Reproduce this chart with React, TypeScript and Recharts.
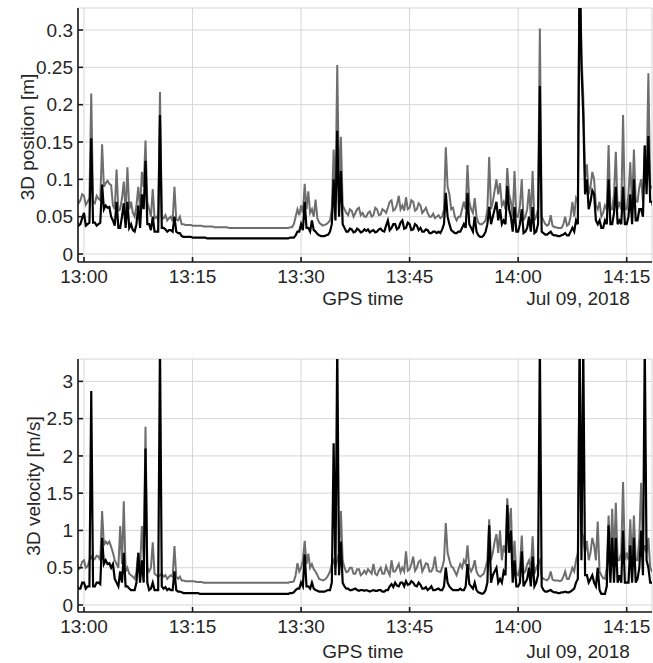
import { LineChart, Line, XAxis, YAxis, CartesianGrid } from 'recharts';

// ── 샘플 간격 (분, 13:00 기준) — 한 줄 = 5분 ─────────────────
const START_MIN = -1;
const STEP_MIN = 0.25;

// ── 3D position [m] ──────────────────────────────────────────
const posGray = [
  0.075, 0.068, 0.072, 0.08, 0.078, 0.066, 0.07, 0.075, 0.215, 0.07, 0.068, 0.078, 0.074, 0.072, 0.147, 0.09, 0.095, 0.098, 0.094, 0.092,
  0.065, 0.06, 0.113, 0.058, 0.06, 0.075, 0.097, 0.055, 0.116, 0.06, 0.07, 0.055, 0.05, 0.065, 0.09, 0.06, 0.11, 0.09, 0.152, 0.07,
  0.06, 0.05, 0.087, 0.048, 0.05, 0.046, 0.217, 0.05, 0.048, 0.052, 0.045, 0.048, 0.05, 0.044, 0.09, 0.046, 0.045, 0.05, 0.04, 0.04,
  0.039, 0.039, 0.039, 0.039, 0.038, 0.038, 0.038, 0.038, 0.038, 0.038, 0.037, 0.037, 0.037, 0.037, 0.037, 0.037, 0.036, 0.036, 0.036, 0.036,
  0.036, 0.036, 0.036, 0.036, 0.035, 0.035, 0.035, 0.035, 0.035, 0.035, 0.035, 0.035, 0.035, 0.035, 0.035, 0.035, 0.035, 0.035, 0.035, 0.035,
  0.035, 0.035, 0.035, 0.035, 0.035, 0.035, 0.035, 0.035, 0.035, 0.035, 0.035, 0.035, 0.035, 0.035, 0.035, 0.035, 0.035, 0.035, 0.036, 0.036,
  0.04, 0.05, 0.06, 0.052, 0.065, 0.055, 0.094, 0.06, 0.084, 0.055, 0.06, 0.05, 0.073, 0.048, 0.042, 0.04, 0.038, 0.039, 0.04, 0.042,
  0.045, 0.06, 0.14, 0.07, 0.253, 0.08, 0.157, 0.065, 0.06, 0.055, 0.052, 0.06, 0.058, 0.05, 0.055, 0.06, 0.062, 0.052, 0.055, 0.05,
  0.05, 0.055, 0.057, 0.05, 0.052, 0.062, 0.06, 0.052, 0.053, 0.06, 0.058, 0.055, 0.062, 0.07, 0.072, 0.058, 0.06, 0.066, 0.078, 0.06,
  0.065, 0.058, 0.076, 0.06, 0.062, 0.072, 0.07, 0.058, 0.06, 0.068, 0.065, 0.055, 0.058, 0.062, 0.055, 0.05, 0.05, 0.054, 0.048, 0.05,
  0.052, 0.048, 0.05, 0.06, 0.143, 0.09, 0.08, 0.06, 0.062, 0.05, 0.045, 0.05, 0.05, 0.06, 0.07, 0.06, 0.119, 0.07, 0.06, 0.055,
  0.075, 0.05, 0.042, 0.04, 0.04, 0.042, 0.045, 0.06, 0.13, 0.06, 0.07, 0.085, 0.1, 0.08, 0.095, 0.065, 0.07, 0.06, 0.115, 0.08,
  0.07, 0.05, 0.111, 0.05, 0.05, 0.065, 0.1, 0.045, 0.05, 0.06, 0.087, 0.05, 0.111, 0.045, 0.05, 0.06, 0.302, 0.05, 0.045, 0.04,
  0.038, 0.04, 0.052, 0.038, 0.036, 0.036, 0.035, 0.035, 0.035, 0.04, 0.05, 0.038, 0.04, 0.05, 0.07, 0.05, 0.075, 0.07, 0.4, 0.27,
  0.211, 0.1, 0.12, 0.08, 0.09, 0.11, 0.1, 0.065, 0.06, 0.07, 0.05, 0.055, 0.065, 0.06, 0.146, 0.06, 0.06, 0.08, 0.137, 0.06,
  0.07, 0.06, 0.186, 0.06, 0.06, 0.08, 0.123, 0.06, 0.14, 0.07, 0.07, 0.09, 0.1, 0.07, 0.146, 0.1, 0.242, 0.09, 0.09, 0.08,
];
const posBlack = [
  0.044, 0.038, 0.04, 0.048, 0.055, 0.038, 0.04, 0.042, 0.155, 0.042, 0.042, 0.038, 0.04, 0.042, 0.093, 0.06, 0.065, 0.062, 0.063, 0.05,
  0.045, 0.038, 0.07, 0.035, 0.035, 0.05, 0.068, 0.035, 0.07, 0.035, 0.04, 0.032, 0.03, 0.04, 0.065, 0.035, 0.08, 0.06, 0.125, 0.04,
  0.04, 0.032, 0.05, 0.03, 0.03, 0.03, 0.186, 0.035, 0.035, 0.033, 0.03, 0.032, 0.032, 0.03, 0.05, 0.03, 0.028, 0.028, 0.024, 0.023,
  0.023, 0.023, 0.023, 0.023, 0.022, 0.022, 0.022, 0.022, 0.022, 0.022, 0.022, 0.022, 0.021, 0.021, 0.021, 0.021, 0.021, 0.021, 0.021, 0.021,
  0.021, 0.021, 0.021, 0.021, 0.021, 0.021, 0.021, 0.021, 0.021, 0.021, 0.021, 0.021, 0.021, 0.021, 0.021, 0.021, 0.021, 0.021, 0.021, 0.021,
  0.021, 0.021, 0.021, 0.021, 0.021, 0.021, 0.021, 0.021, 0.021, 0.021, 0.021, 0.021, 0.021, 0.021, 0.021, 0.021, 0.021, 0.021, 0.022, 0.022,
  0.022, 0.025, 0.03, 0.03, 0.04, 0.032, 0.07, 0.035, 0.035, 0.03, 0.045, 0.032, 0.03, 0.027, 0.025, 0.024, 0.024, 0.024, 0.025, 0.026,
  0.03, 0.04, 0.1, 0.045, 0.165, 0.05, 0.111, 0.04, 0.035, 0.03, 0.03, 0.034, 0.033, 0.029, 0.03, 0.034, 0.032, 0.029, 0.03, 0.033,
  0.031, 0.033, 0.029, 0.031, 0.032, 0.029, 0.03, 0.033, 0.034, 0.031, 0.03, 0.038, 0.045, 0.032, 0.035, 0.04, 0.04, 0.033, 0.035, 0.042,
  0.045, 0.034, 0.035, 0.042, 0.04, 0.032, 0.033, 0.04, 0.038, 0.032, 0.035, 0.03, 0.03, 0.033, 0.032, 0.028, 0.028, 0.03, 0.03, 0.028,
  0.03, 0.028, 0.033, 0.04, 0.082, 0.05, 0.04, 0.032, 0.03, 0.028, 0.028, 0.03, 0.03, 0.035, 0.04, 0.035, 0.082, 0.04, 0.035, 0.03,
  0.05, 0.03, 0.025, 0.023, 0.023, 0.025, 0.03, 0.04, 0.063, 0.04, 0.05, 0.06, 0.07, 0.045, 0.06, 0.04, 0.045, 0.04, 0.091, 0.06,
  0.05, 0.03, 0.063, 0.03, 0.03, 0.04, 0.06, 0.028, 0.03, 0.035, 0.05, 0.03, 0.063, 0.028, 0.03, 0.04, 0.225, 0.03, 0.028, 0.026,
  0.026, 0.028, 0.03, 0.026, 0.025, 0.025, 0.024, 0.024, 0.025, 0.026, 0.028, 0.025, 0.025, 0.03, 0.035, 0.03, 0.045, 0.04, 0.4, 0.25,
  0.186, 0.08, 0.1, 0.06, 0.07, 0.085, 0.08, 0.045, 0.04, 0.045, 0.035, 0.035, 0.045, 0.04, 0.1, 0.04, 0.04, 0.055, 0.09, 0.04,
  0.045, 0.04, 0.09, 0.04, 0.04, 0.05, 0.08, 0.04, 0.1, 0.045, 0.045, 0.06, 0.06, 0.05, 0.145, 0.08, 0.158, 0.07, 0.07, 0.06,
];

// ── 3D velocity [m/s] ────────────────────────────────────────
const velGray = [
  0.55, 0.48, 0.5, 0.58, 0.6, 0.5, 0.52, 0.6, 0.65, 0.6, 0.62, 0.66, 0.65, 0.6, 1.26, 0.8, 0.85, 0.82, 0.85, 0.78,
  0.7, 0.6, 0.55, 0.5, 1.06, 0.55, 1.39, 0.45, 0.5, 0.42, 0.4, 0.38, 0.35, 0.45, 0.7, 0.5, 1.06, 0.6, 2.39, 0.5,
  0.45, 0.5, 0.84, 0.42, 0.4, 0.38, 0.4, 0.42, 0.38, 0.4, 0.35, 0.38, 0.4, 0.38, 0.79, 0.38, 0.35, 0.38, 0.33, 0.33,
  0.32, 0.32, 0.32, 0.32, 0.32, 0.32, 0.31, 0.31, 0.31, 0.31, 0.3, 0.3, 0.3, 0.3, 0.3, 0.3, 0.3, 0.3, 0.3, 0.3,
  0.3, 0.3, 0.3, 0.3, 0.3, 0.3, 0.3, 0.3, 0.3, 0.3, 0.3, 0.3, 0.3, 0.3, 0.3, 0.3, 0.3, 0.3, 0.3, 0.3,
  0.3, 0.3, 0.3, 0.3, 0.3, 0.3, 0.3, 0.3, 0.3, 0.3, 0.3, 0.3, 0.3, 0.3, 0.3, 0.3, 0.3, 0.3, 0.31, 0.31,
  0.32, 0.4, 0.56, 0.45, 0.5, 0.6, 0.86, 0.55, 0.69, 0.5, 0.55, 0.48, 0.45, 0.4, 0.35, 0.34, 0.33, 0.34, 0.36, 0.4,
  0.45, 0.55, 0.6, 0.5, 0.6, 0.7, 1.26, 0.6, 0.5, 0.44, 0.45, 0.5, 0.5, 0.42, 0.42, 0.48, 0.48, 0.4, 0.42, 0.46,
  0.42, 0.48, 0.45, 0.42, 0.55, 0.42, 0.4, 0.46, 0.5, 0.42, 0.42, 0.52, 0.45, 0.4, 0.6, 0.45, 0.45, 0.5, 0.55, 0.44,
  0.5, 0.45, 0.72, 0.46, 0.48, 0.55, 0.65, 0.46, 0.5, 0.58, 0.6, 0.45, 0.5, 0.56, 0.55, 0.45, 0.45, 0.5, 0.65, 0.46,
  0.45, 0.44, 0.5, 0.6, 1.1, 0.7, 0.6, 0.52, 0.5, 0.45, 0.4, 0.48, 0.55, 0.5, 0.6, 0.55, 0.8, 0.5, 0.45, 0.5,
  0.6, 0.45, 0.4, 0.38, 0.4, 0.42, 0.5, 0.6, 1.15, 0.6, 0.7, 0.85, 0.95, 0.7, 1.0, 0.6, 0.8, 0.7, 1.43, 1.0,
  1.3, 0.5, 0.86, 0.42, 0.4, 0.5, 0.93, 0.42, 0.45, 0.55, 0.6, 0.45, 0.92, 0.42, 0.5, 0.55, 0.6, 0.38, 0.35, 0.34,
  0.33, 0.36, 0.45, 0.34, 0.33, 0.33, 0.33, 0.32, 0.33, 0.38, 0.45, 0.35, 0.35, 0.42, 0.5, 0.45, 0.6, 0.7, 3.5, 1.0,
  0.9, 0.7, 0.86, 0.6, 0.7, 0.9, 0.8, 0.6, 1.12, 0.45, 0.4, 0.36, 0.35, 0.5, 1.2, 0.6, 1.29, 0.6, 1.37, 0.6,
  0.6, 0.7, 1.65, 0.6, 0.7, 0.6, 1.15, 0.55, 1.2, 0.6, 0.6, 0.9, 1.64, 0.7, 0.8, 0.7, 0.9, 0.5, 0.45, 0.45,
];
const velBlack = [
  0.27, 0.22, 0.22, 0.3, 0.3, 0.22, 0.25, 0.25, 2.87, 0.25, 0.25, 0.3, 0.3, 0.28, 0.9, 0.55, 0.6, 0.55, 0.56, 0.5,
  0.55, 0.35, 0.3, 0.25, 0.45, 0.3, 0.7, 0.25, 0.25, 0.22, 0.2, 0.2, 0.2, 0.3, 0.7, 0.3, 0.6, 0.3, 2.1, 0.3,
  0.2, 0.22, 0.3, 0.2, 0.2, 0.2, 3.5, 0.25, 0.22, 0.24, 0.2, 0.22, 0.2, 0.2, 0.45, 0.2, 0.18, 0.18, 0.17, 0.16,
  0.16, 0.16, 0.16, 0.16, 0.16, 0.16, 0.16, 0.16, 0.15, 0.15, 0.15, 0.15, 0.15, 0.15, 0.15, 0.15, 0.15, 0.15, 0.15, 0.15,
  0.15, 0.15, 0.15, 0.15, 0.15, 0.15, 0.15, 0.15, 0.15, 0.15, 0.15, 0.15, 0.15, 0.15, 0.15, 0.15, 0.15, 0.15, 0.15, 0.15,
  0.15, 0.15, 0.15, 0.15, 0.15, 0.15, 0.15, 0.15, 0.15, 0.15, 0.15, 0.15, 0.15, 0.15, 0.15, 0.15, 0.15, 0.15, 0.16, 0.16,
  0.17, 0.2, 0.22, 0.22, 0.3, 0.25, 0.68, 0.25, 0.25, 0.22, 0.3, 0.22, 0.2, 0.19, 0.18, 0.18, 0.18, 0.18, 0.19, 0.2,
  0.2, 0.3, 2.17, 0.4, 3.5, 0.4, 0.85, 0.3, 0.25, 0.22, 0.22, 0.2, 0.2, 0.21, 0.22, 0.2, 0.19, 0.2, 0.2, 0.19,
  0.2, 0.19, 0.18, 0.19, 0.2, 0.19, 0.19, 0.2, 0.2, 0.18, 0.18, 0.2, 0.2, 0.25, 0.28, 0.24, 0.3, 0.26, 0.25, 0.3,
  0.3, 0.25, 0.32, 0.27, 0.28, 0.32, 0.3, 0.26, 0.25, 0.3, 0.27, 0.22, 0.22, 0.24, 0.2, 0.22, 0.25, 0.2, 0.2, 0.21,
  0.22, 0.2, 0.2, 0.25, 0.5, 0.3, 0.25, 0.22, 0.2, 0.2, 0.2, 0.2, 0.22, 0.2, 0.2, 0.25, 0.55, 0.28, 0.25, 0.22,
  0.3, 0.2, 0.17, 0.16, 0.15, 0.16, 0.2, 0.3, 1.07, 0.3, 0.4, 0.45, 0.5, 0.3, 0.35, 0.3, 0.45, 0.4, 1.34, 0.7,
  1.0, 0.3, 0.6, 0.25, 0.25, 0.3, 0.72, 0.25, 0.3, 0.35, 0.5, 0.25, 0.65, 0.25, 0.3, 0.4, 3.5, 0.25, 0.2, 0.18,
  0.18, 0.19, 0.2, 0.18, 0.17, 0.17, 0.16, 0.16, 0.17, 0.17, 0.18, 0.17, 0.17, 0.18, 0.2, 0.22, 0.3, 0.35, 3.5, 0.6,
  3.5, 0.4, 0.4, 0.3, 0.35, 0.4, 0.3, 0.25, 0.5, 0.2, 0.15, 0.15, 0.15, 0.25, 1.07, 0.3, 0.9, 0.3, 0.9, 0.3,
  0.4, 0.3, 1.0, 0.3, 0.3, 0.3, 0.8, 0.3, 0.9, 0.3, 0.35, 0.5, 1.0, 0.4, 3.5, 0.6, 0.5, 0.3, 0.3, 0.3,
];

// ── 축 눈금 ──────────────────────────────────────────────────
const timeTicks = [0, 15, 30, 45, 60, 75];
const timeLabels = ['13:00', '13:15', '13:30', '13:45', '14:00', '14:15'];
const posTicks = [0, 0.05, 0.1, 0.15, 0.2, 0.25, 0.3];
const velTicks = [0, 0.5, 1, 1.5, 2, 2.5, 3];

const FONT = '"Liberation Sans", Arial, Helvetica, sans-serif';
const TICK = { fill: '#262626', fontSize: 19, fontFamily: FONT };
const X_DOMAIN: [number, number] = [-0.83, 78.5];

const posData = posGray.map((g, i) => ({ t: START_MIN + i * STEP_MIN, gray: g, black: posBlack[i] }));
const velData = velGray.map((g, i) => ({ t: START_MIN + i * STEP_MIN, gray: g, black: velBlack[i] }));

const fmtTime = (v: number) => timeLabels[timeTicks.indexOf(v)] ?? '';

interface PanelProps {
  data: { t: number; gray: number; black: number }[];
  top: number; height: number; marginTop: number; axisH: number; xMargin: number;
  yTicks: number[]; yDomain: [number, number];
}

function Panel({ data, top, height, marginTop, axisH, xMargin, yTicks, yDomain }: PanelProps) {
  return (
    <div style={{ position: 'absolute', left: 0, top }}>
      <LineChart width={653} height={height} data={data} margin={{ top: marginTop, right: 1, bottom: 0, left: 0 }}>
        <CartesianGrid stroke="#d6d6d6" strokeWidth={1} />
        <XAxis dataKey="t" type="number" domain={X_DOMAIN} allowDataOverflow ticks={timeTicks} interval={0}
          tickFormatter={fmtTime} tick={TICK} tickSize={-5} tickMargin={xMargin} height={axisH}
          stroke="#1a1a1a" strokeWidth={1.6} />
        <XAxis xAxisId="top" orientation="top" type="number" domain={X_DOMAIN} allowDataOverflow ticks={timeTicks}
          interval={0} tick={false} tickSize={-5} height={0} stroke="#1a1a1a" strokeWidth={1.6} />
        <YAxis type="number" domain={yDomain} allowDataOverflow ticks={yTicks} interval={0}
          tickFormatter={(v: number) => String(v)} tick={TICK} tickSize={-5} tickMargin={10} width={78}
          stroke="#1a1a1a" strokeWidth={1.6} />
        <YAxis yAxisId="right" orientation="right" type="number" domain={yDomain} allowDataOverflow ticks={yTicks}
          interval={0} tick={false} tickSize={-5} width={0} stroke="#1a1a1a" strokeWidth={1.6} />
        <Line dataKey="gray" stroke="#6e6e6e" strokeWidth={2} strokeLinejoin="miter" dot={false} isAnimationActive={false} />
        <Line dataKey="black" stroke="#000" strokeWidth={2.2} strokeLinejoin="miter" dot={false} isAnimationActive={false} />
      </LineChart>
    </div>
  );
}

export default function App() {
  return (
    <div style={{ position: 'absolute', left: 0, top: 0, width: 653, height: 663, background: '#fff' }}>
      <Panel data={posData} top={0} height={320} marginTop={8} axisH={58} xMargin={13}
        yTicks={posTicks} yDomain={[-0.0107, 0.3295]} />
      <Panel data={velData} top={330} height={333} marginTop={29} axisH={51} xMargin={13}
        yTicks={velTicks} yDomain={[-0.094, 3.3]} />
      {/* 축 제목 */}
      <svg width={653} height={663} style={{ position: 'absolute', left: 0, top: 0, pointerEvents: 'none' }}
        fontFamily={FONT} fontSize={19} fill="#262626">
        <text x={27} y={137} textAnchor="middle" dominantBaseline="central" transform="rotate(-90 27 137)">3D position [m]</text>
        <text x={33} y={486} textAnchor="middle" dominantBaseline="central" transform="rotate(-90 33 486)">3D velocity [m/s]</text>
        <text x={363} y={305} textAnchor="middle">GPS time</text>
        <text x={578} y={305} textAnchor="middle">Jul 09, 2018</text>
        <text x={363} y={658} textAnchor="middle">GPS time</text>
        <text x={578} y={658} textAnchor="middle">Jul 09, 2018</text>
      </svg>
    </div>
  );
}
